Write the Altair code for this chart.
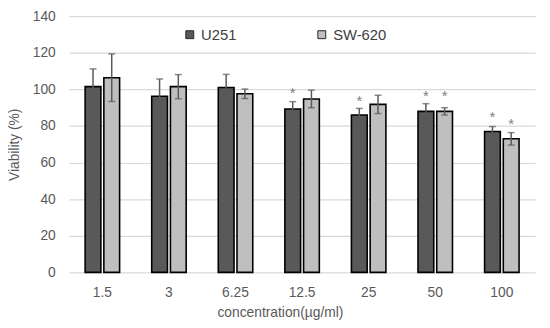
import altair as alt
import pandas as pd

conc = ["1.5", "3", "6.25", "12.5", "25", "50", "100"]
series = ["U251", "SW-620"]
u251 = [101.5, 96.3, 101.0, 89.3, 86.0, 88.0, 77.0]
u251_err = [9.7, 9.4, 7.2, 4.0, 3.6, 4.2, 2.7]
sw620 = [106.4, 101.5, 97.6, 94.8, 91.8, 88.0, 73.0]
sw620_err = [13.0, 6.6, 2.6, 4.8, 5.0, 2.0, 3.4]
u251_star = [None, None, None, 99.4, 95.4, 97.8, 86.6]
sw620_star = [None, None, None, None, None, 97.8, 82.9]
y_ticks = [0, 20, 40, 60, 80, 100, 120, 140]

rows = []
for i, c in enumerate(conc):
    rows.append(dict(conc=c, series="U251", v=u251[i], lo=u251[i] - u251_err[i],
                     hi=u251[i] + u251_err[i], star=u251_star[i]))
    rows.append(dict(conc=c, series="SW-620", v=sw620[i], lo=sw620[i] - sw620_err[i],
                     hi=sw620[i] + sw620_err[i], star=sw620_star[i]))
df = pd.DataFrame(rows)

FONT = "Liberation Sans"
pi = 0.482
x_axis = alt.Axis(title="concentration(µg/ml)", labelAngle=0, ticks=False,
                  domain=False, labelPadding=13, labelFontSize=14,
                  labelColor="#595959", labelFont=FONT,
                  titleFont=FONT, titleFontSize=14, titleColor="#595959",
                  titleFontWeight="normal", titleX=214, titleY=41,
                  titleBaseline="middle")
y_axis = alt.Axis(title="Viability (%)", values=y_ticks, labelOverlap=False,
                  ticks=False, domain=False, grid=True, gridColor="#D9D9D9",
                  gridWidth=1.2, labelPadding=14, labelFontSize=14,
                  labelColor="#595959", labelFont=FONT,
                  titleFont=FONT, titleFontSize=14, titleColor="#595959",
                  titleFontWeight="normal", titleX=-55, titleY=130,
                  titleAlign="center", titleBaseline="middle", titleAngle=270)
x_scale = alt.Scale(paddingInner=pi, paddingOuter=pi / 2)
xo_scale = alt.Scale(paddingInner=3 / 19, paddingOuter=0)
y_scale = alt.Scale(domain=[0, 140], nice=False)

xs = alt.X("conc:N", sort=conc, scale=x_scale, axis=x_axis)
xos = alt.XOffset("series:N", sort=series, scale=xo_scale)


def yq(field):
    return alt.Y(field, type="quantitative", scale=y_scale, axis=y_axis)


base = alt.Chart(df)

bars = base.mark_bar(stroke="black", strokeWidth=1.6).encode(
    x=xs,
    xOffset=xos,
    y=yq("v"),
    color=alt.Color("series:N", sort=series,
                    scale=alt.Scale(domain=series, range=["#595959", "#BFBFBF"]),
                    legend=alt.Legend(title=None, orient="none", legendX=115, legendY=11,
                                      direction="horizontal", symbolType="square",
                                      symbolSize=64, symbolStrokeColor="#262626",
                                      symbolStrokeWidth=1, labelFontSize=15,
                                      labelFont=FONT, labelColor="#404040",
                                      labelOffset=4, columnPadding=79, padding=0)),
)

err = base.mark_rule(color="#595959", strokeWidth=1.5).encode(
    x=xs, xOffset=xos, y=yq("lo"), y2="hi:Q")

cap_hi = base.mark_tick(color="#595959", thickness=1.5, size=7, orient="horizontal").encode(
    x=xs, xOffset=xos, y=yq("hi"))
cap_lo = base.mark_tick(color="#595959", thickness=1.5, size=7, orient="horizontal").encode(
    x=xs, xOffset=xos, y=yq("lo"))

stars = base.transform_filter("datum.star != null").mark_text(
    text="*", color="#808080", fontSize=15, font=FONT, baseline="alphabetic", dy=8).encode(
    x=xs, xOffset=xos, y=yq("star"))

chart = alt.layer(bars, err, cap_hi, cap_lo, stars).properties(
    width=473, height=260,
    autosize=alt.AutoSizeParams(type="none"),
    padding={"left": 62, "top": 6, "right": 7, "bottom": 46},
).configure_view(stroke=None)

chart.save("out.html", embed_options={"renderer": "svg", "actions": False})
